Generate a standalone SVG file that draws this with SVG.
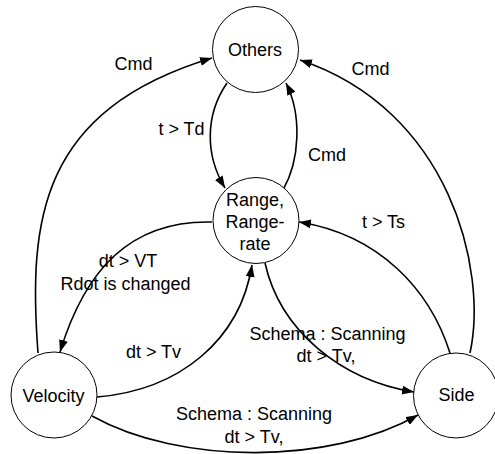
<svg xmlns="http://www.w3.org/2000/svg" width="495" height="454" viewBox="0 0 495 454">
<style>
.node{fill:#fff;stroke:#000;stroke-width:1}
.t{font-family:"Liberation Sans",Arial,sans-serif;font-size:18px;fill:#000;text-anchor:middle}
.e{fill:none;stroke:#000;stroke-width:1.6;marker-end:url(#arr)}
</style>
<defs>
<marker id="arr" markerUnits="userSpaceOnUse" markerWidth="13" markerHeight="9" refX="12" refY="4.5" orient="auto">
<path d="M0,0 L12,4.5 L0,9 z" fill="#000"/>
</marker>
</defs>
<g id="connectors">
<path class="e" d="M38 353 C28 220, 40 110, 212 58"/>
<path class="e" d="M227 83 C205 115, 205 155, 225 188"/>
<path class="e" d="M283 190 C300 160, 302 115, 286 83"/>
<path class="e" d="M470 353 C488 270, 450 110, 300 60"/>
<path class="e" d="M450 353 C430 290, 380 235, 299 222"/>
<path class="e" d="M212 222 C130 220, 85 270, 60 352"/>
<path class="e" d="M97 397 C180 390, 240 340, 252 265"/>
<path class="e" d="M265 263 C280 330, 340 380, 414 392"/>
<path class="e" d="M92 416 C180 465, 330 465, 418 415"/>
</g>
<g id="labels">
<text class="t" x="133.5" y="70">Cmd</text>
<text class="t" x="181.5" y="135">t &gt; Td</text>
<text class="t" x="370.5" y="75">Cmd</text>
<text class="t" x="327" y="161">Cmd</text>
<text class="t" x="383.5" y="228">t &gt; Ts</text>
<text class="t" x="128" y="267">dt &gt; VT</text>
<text class="t" x="125.5" y="290">Rdot is changed</text>
<text class="t" x="153.5" y="358">dt &gt; Tv</text>
<text class="t" x="327.5" y="340">Schema : Scanning</text>
<text class="t" x="326" y="362">dt &gt; Tv,</text>
<text class="t" x="254" y="420">Schema : Scanning</text>
<text class="t" x="254" y="443">dt &gt; Tv,</text>
</g>
<g id="others">
<circle class="node" cx="255.5" cy="49.5" r="43"/>
<text class="t" x="255" y="56">Others</text>
</g>
<g id="range">
<circle class="node" cx="256" cy="220.5" r="43"/>
<text class="t" x="255" y="206">Range,</text>
<text class="t" x="255" y="228">Range-</text>
<text class="t" x="255" y="250">rate</text>
</g>
<g id="velocity">
<circle class="node" cx="54" cy="395" r="43"/>
<text class="t" x="53.5" y="402">Velocity</text>
</g>
<g id="side">
<circle class="node" cx="456" cy="395.5" r="42.5"/>
<text class="t" x="456.5" y="401">Side</text>
</g>
</svg>
